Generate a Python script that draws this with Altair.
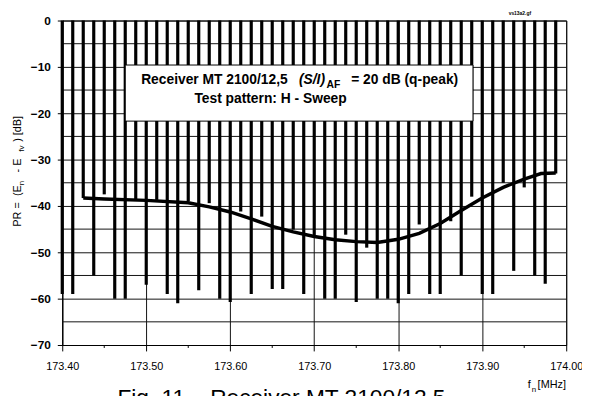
import altair as alt
import pandas as pd

FONT = "Liberation Sans"

# ---- data ----
x_ticks = [173.40, 173.50, 173.60, 173.70, 173.80, 173.90, 174.00]
x_minor = [173.45, 173.55, 173.65, 173.75, 173.85, 173.95]
y_ticks = [0, -10, -20, -30, -40, -50, -60, -70]
y_minor_grid = [-5, -15, -25, -35, -45, -55, -65]

bar_freq = [173.4000, 173.4125, 173.4250, 173.4375, 173.4500, 173.4625, 173.4750, 173.4875,
            173.5000, 173.5125, 173.5250, 173.5375, 173.5500, 173.5625, 173.5750, 173.5875,
            173.6000, 173.6125, 173.6250, 173.6375, 173.6500, 173.6625, 173.6750, 173.6875,
            173.7000, 173.7125, 173.7250, 173.7375, 173.7500, 173.7625, 173.7750, 173.7875,
            173.8000, 173.8125, 173.8250, 173.8375, 173.8500, 173.8625, 173.8750, 173.8875,
            173.9000, 173.9125, 173.9250, 173.9375, 173.9500, 173.9625, 173.9750, 173.9875]
bar_bottom = [-59, -59, -38.3, -55, -37.5, -60, -60, -38.7,
              -57, -38.7, -59, -61, -39, -58.2, -39.4, -60,
              -60.7, -41.2, -59, -42.3, -57.9, -57.9, -45.1, -59,
              -46.5, -60, -60, -46.2, -60.7, -49, -60, -60,
              -61, -59, -44, -59, -59, -43.3, -55, -38,
              -59, -59, -35, -54, -36, -55, -56.8, -33]

curve_freq = [173.425, 173.45, 173.50, 173.55, 173.575, 173.60, 173.625, 173.65, 173.675,
              173.70, 173.725, 173.75, 173.775, 173.80, 173.825, 173.85, 173.875, 173.90,
              173.925, 173.95, 173.97, 173.9875]
curve_db = [-38.3, -38.5, -38.8, -39.3, -40.2, -41.3, -42.8, -44.4, -45.6,
            -46.6, -47.3, -47.7, -47.9, -47.2, -45.9, -43.8, -41.0, -38.3,
            -36.0, -34.2, -33.0, -32.9]

box_freq = [173.475, 173.889]
box_db = [-9.6, -21.7]

W, H = 511, 329
XDOM = [173.40, 174.00]
YDOM = [-70, 0]

xs = alt.Scale(domain=XDOM, nice=False, zero=False)
ys = alt.Scale(domain=YDOM, nice=False, zero=False)

X_AX = alt.Axis(values=x_ticks, format=".2f", grid=True, tickSize=6, title=None,
                labelPadding=10, labelFontSize=11, labelFlush=False, labelOverlap=False)
Y_AX = alt.Axis(values=y_ticks, grid=True, tickSize=5, labelPadding=7, title=None,
                labelFontSize=12, labelFontWeight="bold", labelOverlap=False)


def X(field):
    return alt.X(field, scale=xs, axis=X_AX, title=None)


def Y(field):
    return alt.Y(field, scale=ys, axis=Y_AX, title=None)


bars_df = pd.DataFrame({"f": bar_freq, "top": [0] * len(bar_freq), "db": bar_bottom})
curve_df = pd.DataFrame({"f": curve_freq, "db": curve_db})
grid_df = pd.DataFrame({"db": y_minor_grid})
minor_df = pd.DataFrame({"f": x_minor})
box_df = pd.DataFrame({"f": [box_freq[0]], "f2": [box_freq[1]], "db": [box_db[0]], "db2": [box_db[1]]})

bars = alt.Chart(bars_df).mark_rule(color="black", strokeWidth=3.2).encode(
    x=X("f:Q"), y=Y("top:Q"), y2="db:Q",
)

minor_grid = alt.Chart(grid_df).mark_rule(color="#111", strokeWidth=1).encode(
    y=Y("db:Q"), x=alt.value(0), x2=alt.value(W),
)

minor_ticks = alt.Chart(minor_df).mark_rule(color="black", strokeWidth=1).encode(
    x=X("f:Q"), y=alt.value(H), y2=alt.value(H + 3),
)

curve = alt.Chart(curve_df).mark_line(color="black", strokeWidth=3.5).encode(
    x=X("f:Q"), y=Y("db:Q"),
)

box = alt.Chart(box_df).mark_rect(fill="white", stroke="black", strokeWidth=1).encode(
    x=X("f:Q"), x2="f2:Q", y=Y("db:Q"), y2="db2:Q",
)


def txt(s, x, y, size, weight="normal", style="normal", angle=0, dx=0, dy=0, align="left"):
    return alt.Chart(pd.DataFrame({"t": [s]})).mark_text(
        align=align, baseline="alphabetic", font=FONT, fontSize=size,
        fontWeight=weight, fontStyle=style, angle=angle, dx=dx, dy=dy, color="black"
    ).encode(x=alt.value(x), y=alt.value(y), text="t:N")


texts = [
    # box text
    txt("Receiver MT 2100/12,5", 80, 64, 14, "bold"),
    txt("(S/I)", 240, 64, 14, "bold", "italic"),
    txt("AF", 268, 68, 10.5, "bold"),
    txt("= 20 dB (q-peak)", 293, 64, 14, "bold"),
    txt("Test pattern:  H - Sweep", 134, 84, 14, "bold"),
    # y-axis title (rotated pieces)
    txt("PR =", -42, 209, 11, angle=270, dx=0),
    txt("(E", -42, 209, 11, angle=270, dx=31),
    txt("n", -42, 209, 8, angle=270, dx=42, dy=3),
    txt("-  E", -42, 209, 11, angle=270, dx=55),
    txt("fv", -42, 209, 8, angle=270, dx=76, dy=3),
    txt(") [dB]", -42, 209, 11, angle=270, dx=86),
    # x-axis title
    txt("f", 472, 373, 11),
    txt("n", 476, 377, 8),
    txt("[MHz]", 482, 373, 11),
    # caption (cut off at bottom, as in the reference)
    txt("Fig. 11", 56, 390, 23),
    txt("Receiver MT 2100/12,5", 150, 390, 23),
    # tiny file tag
    txt("vs13a2.gf", 464, -6, 5, "bold", align="center"),
]

chart = alt.layer(minor_grid, bars, minor_ticks, curve, box, *texts).properties(
    width=W, height=H,
    autosize=alt.AutoSizeParams(type="none"),
    padding={"left": 55, "top": 10, "right": 16, "bottom": 49},
).configure_view(stroke="black", strokeWidth=1).configure_axis(
    domainColor="black", tickColor="black", gridColor="#111", gridWidth=1,
    gridOpacity=1, labelColor="black", labelFont=FONT,
)

chart.save("out.html", embed_options={"renderer": "svg", "actions": False})
